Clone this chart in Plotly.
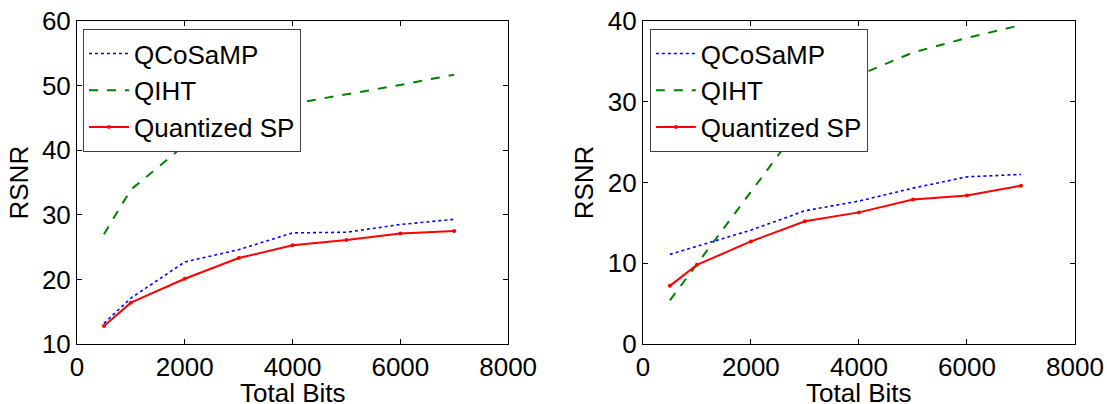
import plotly.graph_objects as go

bits = [500, 1000, 2000, 3000, 4000, 5000, 6000, 7000]

# Left panel
left_qcosamp = [13.2, 17.1, 22.7, 24.6, 27.2, 27.3, 28.5, 29.3]
left_qiht = [27.0, 33.9, 40.8, 44.3, 47.2, 48.6, 50.1, 51.7]
left_qsp = [12.8, 16.4, 20.1, 23.3, 25.3, 26.1, 27.1, 27.5]

# Right panel
right_qcosamp = [11.1, 12.1, 14.1, 16.5, 17.7, 19.3, 20.7, 21.0]
right_qiht = [5.4, 9.9, 18.8, 27.8, 33.3, 36.1, 37.9, 39.5]
right_qsp = [7.2, 9.8, 12.7, 15.2, 16.3, 17.9, 18.4, 19.6]

x_ticks = [0, 2000, 4000, 6000, 8000]
left_y_ticks = [10, 20, 30, 40, 50, 60]
right_y_ticks = [0, 10, 20, 30, 40]

names = ["QCoSaMP", "QIHT", "Quantized SP"]
x_title = "Total Bits"
y_title = "RSNR"
FONT = "Liberation Sans, Arial, sans-serif"

fig = go.Figure()

def add_panel(xa, ya, leg, qc, qi, qs):
    fig.add_trace(go.Scatter(x=bits, y=qc, name=names[0], mode="lines",
                             line=dict(color="#0000ff", width=1.6, dash="dot"),
                             xaxis=xa, yaxis=ya, legend=leg))
    fig.add_trace(go.Scatter(x=bits, y=qi, name=names[1], mode="lines",
                             line=dict(color="#008000", width=2, dash="dash"),
                             xaxis=xa, yaxis=ya, legend=leg))
    fig.add_trace(go.Scatter(x=bits, y=qs, name=names[2], mode="lines+markers",
                             line=dict(color="#ff0000", width=2),
                             marker=dict(color="#ff0000", size=4, symbol="circle"),
                             xaxis=xa, yaxis=ya, legend=leg))

add_panel("x", "y", "legend", left_qcosamp, left_qiht, left_qsp)
add_panel("x2", "y2", "legend2", right_qcosamp, right_qiht, right_qsp)

axis_common = dict(showline=True, linecolor="black", linewidth=1, mirror="ticks",
                   ticks="inside", ticklen=5, tickcolor="black", showgrid=False,
                   zeroline=False, automargin=False,
                   tickfont=dict(family=FONT, size=26, color="black"))

L_DOM = [0.0, 0.432]
R_DOM = [0.567, 1.0]

legend_common = dict(font=dict(family=FONT, size=26, color="black"),
                     bgcolor="white", bordercolor="#404040", borderwidth=1,
                     xanchor="left", yanchor="top", tracegroupgap=0,
                     itemwidth=40)

title_font = dict(family=FONT, size=26, color="black")
annotations = []
for dom in (L_DOM, R_DOM):
    annotations.append(dict(text=x_title, xref="paper", yref="paper",
                            x=(dom[0] + dom[1]) / 2, y=-0.152, xanchor="center",
                            yanchor="middle", showarrow=False, font=title_font))
    annotations.append(dict(text=y_title, xref="paper", yref="paper",
                            x=dom[0], xshift=-59, y=0.5, xanchor="center",
                            yanchor="middle", textangle=-90, showarrow=False,
                            font=title_font))

fig.update_layout(
    width=1107, height=404,
    margin=dict(l=77, r=32, t=21, b=60),
    paper_bgcolor="white", plot_bgcolor="white",
    font=dict(family=FONT, size=26, color="black"),
    xaxis=dict(domain=L_DOM, range=[0, 8000], tickvals=x_ticks, anchor="y", **axis_common),
    yaxis=dict(domain=[0, 1], range=[10, 60], tickvals=left_y_ticks, anchor="x", **axis_common),
    xaxis2=dict(domain=R_DOM, range=[0, 8000], tickvals=x_ticks, anchor="y2", **axis_common),
    yaxis2=dict(domain=[0, 1], range=[0, 40], tickvals=right_y_ticks, anchor="x2", **axis_common),
    legend=dict(x=0.006, y=0.975, **legend_common),
    legend2=dict(x=0.574, y=0.975, **legend_common),
    annotations=annotations,
)

fig.write_html("out.html", config={"displayModeBar": False},
               post_script="document.body.style.margin='0px';document.body.style.overflow='hidden';")
